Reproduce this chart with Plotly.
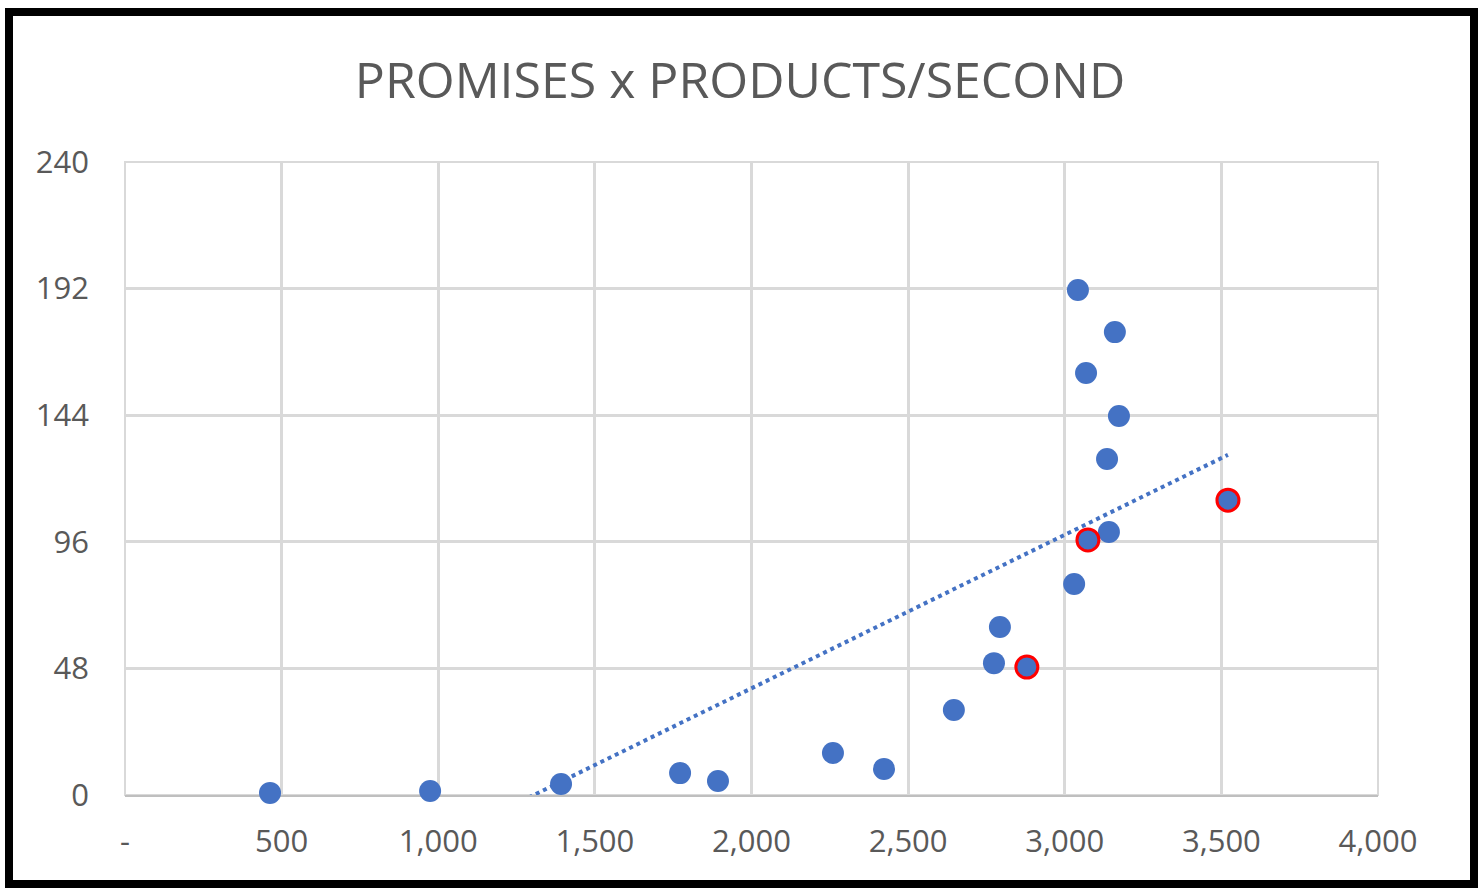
import numpy as np
import plotly.graph_objects as go

# promises vs products/second
products = [463, 974, 1392, 1772, 1893, 2260, 2423, 2646, 2774, 2793,
            2879, 3030, 3042, 3160, 3068, 3173, 3135, 3141, 3074, 3521]
promises = [0.8, 1.5, 4.2, 8.3, 5.3, 15.9, 9.9, 32.2, 50.0, 63.7,
            48.5, 80.0, 191.5, 175.5, 160.0, 143.7, 127.4, 99.7, 96.7, 111.8]
# points highlighted with a red ring
flagged = [2879, 3074, 3521]

x_ticks = [0, 500, 1000, 1500, 2000, 2500, 3000, 3500, 4000]
x_labels = ["-", "500", "1,000", "1,500", "2,000", "2,500", "3,000", "3,500", "4,000"]
y_ticks = [0, 48, 96, 144, 192, 240]

W, H = 1483, 888
L, R, T, B = 125, 1378, 162, 795

blue = "#4472C4"
text_gray = "#595959"
grid = "#d9d9d9"
font_family = "Open Sans"

fig = go.Figure()

# linear trendline fitted to the data
slope, intercept = np.polyfit(products, promises, 1)
tx = np.array([min(products), max(products)])
fig.add_trace(go.Scatter(x=tx, y=slope * tx + intercept, mode="lines",
                         line=dict(color=blue, width=4, dash="dot"),
                         hoverinfo="skip", showlegend=False))

ring = ["#FF0000" if p in flagged else blue for p in products]
ring_w = [3 if p in flagged else 0 for p in products]
fig.add_trace(go.Scatter(x=products, y=promises, mode="markers",
                         cliponaxis=False,
                         marker=dict(size=22, color=blue,
                                     line=dict(color=ring, width=ring_w)),
                         showlegend=False))

pw, ph = R - L, B - T
# plot-area outline (grid colour)
fig.add_shape(type="rect", xref="paper", yref="paper", x0=0, x1=1, y0=0, y1=1,
              line=dict(color=grid, width=2), layer="below")
# outer chart frame
fig.add_shape(type="rect", xref="paper", yref="paper",
              x0=(9 - L) / pw, x1=(1474 - L) / pw,
              y0=(B - 884) / ph, y1=(B - 12) / ph,
              line=dict(color="black", width=8), fillcolor="rgba(0,0,0,0)",
              layer="above")

fig.update_layout(
    width=W, height=H,
    margin=dict(l=L, r=W - R, t=T, b=H - B),
    paper_bgcolor="white", plot_bgcolor="white",
    title=dict(text="PROMISES x PRODUCTS/SECOND", x=(740 - L) / pw, xref="paper",
               xanchor="center", y=1 - 80 / H, yanchor="middle",
               font=dict(family=font_family, size=50, color=text_gray)),
    font=dict(family=font_family, color=text_gray),
    xaxis=dict(range=[0, 4000], tickvals=x_ticks, ticktext=x_labels,
               showgrid=True, gridcolor=grid, gridwidth=2.5,
               zeroline=False, showline=True, linecolor="#bfbfbf", linewidth=2,
               layer="below traces",
               ticks="", ticklabelstandoff=18,
               tickfont=dict(size=31, color=text_gray)),
    yaxis=dict(range=[0, 240], tickvals=y_ticks,
               showgrid=True, gridcolor=grid, gridwidth=2.5,
               zeroline=False, showline=False, ticks="", ticklabelstandoff=35,
               layer="below traces",
               tickfont=dict(size=31, color=text_gray)),
)

fig.write_html("out.html")
